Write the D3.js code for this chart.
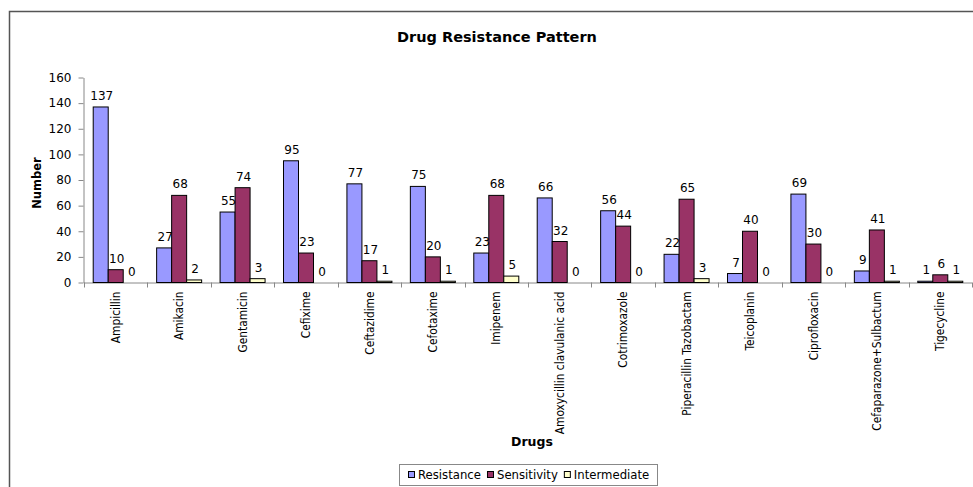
<!DOCTYPE html>
<html>
<head>
<meta charset="utf-8">
<script src="https://cdn.jsdelivr.net/npm/d3@7/dist/d3.min.js"></script>
<style>
  body { margin: 0; background: #fff; }
  svg { display: block; }
</style>
</head>
<body>
<svg id="chart" width="973" height="487"></svg>
<script>
// Drug susceptibility counts per antibiotic
const drugs = [
  "Ampicillin", "Amikacin", "Gentamicin", "Cefixime", "Ceftazidime", "Cefotaxime",
  "Imipenem", "Amoxycillin clavulanic acid", "Cotrimoxazole", "Piperacillin Tazobactam",
  "Teicoplanin", "Ciprofloxacin", "Cefaparazone+Sulbactum", "Tigecycline"
];
const resistance   = [137, 27, 55, 95, 77, 75, 23, 66, 56, 22, 7, 69, 9, 1];
const sensitivity  = [10, 68, 74, 23, 17, 20, 68, 32, 44, 65, 40, 30, 41, 6];
const intermediate = [0, 2, 3, 0, 1, 1, 5, 0, 0, 3, 0, 0, 1, 1];

const seriesNames  = ["Resistance", "Sensitivity", "Intermediate"];
const seriesValues = [resistance, sensitivity, intermediate];
const seriesColors = ["#9999FF", "#993366", "#FFFFCC"];
const yTicks = [0, 20, 40, 60, 80, 100, 120, 140, 160];

const svg = d3.select("#chart");
const FONT = "'DejaVu Sans', Verdana, sans-serif";
const FONT_C = "'DejaVu Sans Condensed', 'DejaVu Sans', sans-serif";

// chart frame
svg.append("path")
  .attr("d", "M9.5,487V11.5H973")
  .attr("fill", "none")
  .attr("stroke", "#555")
  .attr("stroke-width", 1.5);

const plot = { left: 84, right: 972, top: 77.5, bottom: 282.5 };

const x0 = d3.scaleBand().domain(drugs).range([plot.left, plot.right]).padding(0);
const x1 = d3.scaleBand().domain(seriesNames).range([0, x0.bandwidth()])
  .paddingInner(0).paddingOuter(0.614);
const y = d3.scaleLinear().domain([0, 160]).range([plot.bottom, plot.top]);

// title
svg.append("text")
  .attr("x", 497).attr("y", 42)
  .attr("text-anchor", "middle")
  .style("font-family", FONT).style("font-weight", "bold").style("font-size", "14.5px")
  .text("Drug Resistance Pattern");

// y axis
const yAxis = svg.append("g")
  .attr("transform", `translate(${plot.left - 0.5},0)`)
  .call(d3.axisLeft(y).tickValues(yTicks).tickSize(5).tickPadding(7).tickSizeOuter(0));
yAxis.select(".domain").attr("stroke", "#888");
yAxis.selectAll(".tick line").attr("stroke", "#888");
yAxis.selectAll(".tick text")
  .attr("fill", "#000")
  .style("font-family", FONT).style("font-size", "12px");

svg.append("text")
  .attr("transform", `translate(41,${(plot.top + plot.bottom) / 2 + 3}) rotate(-90)`)
  .attr("text-anchor", "middle")
  .style("font-family", FONT).style("font-weight", "bold").style("font-size", "11.5px")
  .text("Number");

// x axis: baseline plus boundary ticks between categories
const xg = svg.append("g");
xg.append("line")
  .attr("x1", plot.left).attr("x2", plot.right)
  .attr("y1", plot.bottom + 0.5).attr("y2", plot.bottom + 0.5)
  .attr("stroke", "#888");
const boundaries = drugs.map(d => x0(d)).concat([plot.right]);
xg.selectAll("line.b").data(boundaries).join("line")
  .attr("class", "b")
  .attr("x1", d => Math.round(d) + 0.5).attr("x2", d => Math.round(d) + 0.5)
  .attr("y1", plot.bottom).attr("y2", plot.bottom + 5)
  .attr("stroke", "#888");

xg.selectAll("text.cat").data(drugs).join("text")
  .attr("class", "cat")
  .attr("transform", d => `translate(${x0(d) + x0.bandwidth() / 2},${plot.bottom + 9}) rotate(-90)`)
  .attr("text-anchor", "end")
  .attr("dy", "0.35em")
  .style("font-family", FONT_C).style("font-size", "11.8px")
  .text(d => d);

svg.append("text")
  .attr("x", 532).attr("y", 446)
  .attr("text-anchor", "middle")
  .style("font-family", FONT).style("font-weight", "bold").style("font-size", "12.5px")
  .text("Drugs");

// bars
const rows = drugs.map((d, i) => ({
  drug: d,
  values: seriesNames.map((s, j) => ({ series: s, value: seriesValues[j][i], color: seriesColors[j] }))
}));

const groups = svg.append("g").selectAll("g").data(rows).join("g")
  .attr("transform", d => `translate(${x0(d.drug)},0)`);

groups.selectAll("rect").data(d => d.values.filter(v => v.value > 0)).join("rect")
  .attr("x", v => x1(v.series))
  .attr("y", v => y(v.value))
  .attr("width", x1.bandwidth())
  .attr("height", v => y(0) - y(v.value))
  .attr("fill", v => v.color)
  .attr("stroke", "#000")
  .attr("stroke-width", 1);

groups.selectAll("text").data(d => d.values).join("text")
  .attr("x", v => x1(v.series) + x1.bandwidth() / 2 + 1)
  .attr("y", v => y(v.value) - 7)
  .attr("text-anchor", "middle")
  .style("font-family", FONT).style("font-size", "12px")
  .text(v => v.value);

// legend
const legend = svg.append("g");
legend.append("rect")
  .attr("x", 399.5).attr("y", 464.5).attr("width", 258).attr("height", 21)
  .attr("fill", "#fff").attr("stroke", "#888");
let lx = 408;
seriesNames.forEach((s, i) => {
  legend.append("rect")
    .attr("x", lx + 0.5).attr("y", 471.5).attr("width", 6).attr("height", 6)
    .attr("fill", seriesColors[i]).attr("stroke", "#000");
  const t = legend.append("text")
    .attr("x", lx + 10).attr("y", 479)
    .style("font-family", FONT).style("font-size", "11.7px")
    .text(s);
  lx += 10 + t.node().getComputedTextLength() + 6;
});
</script>
</body>
</html>
